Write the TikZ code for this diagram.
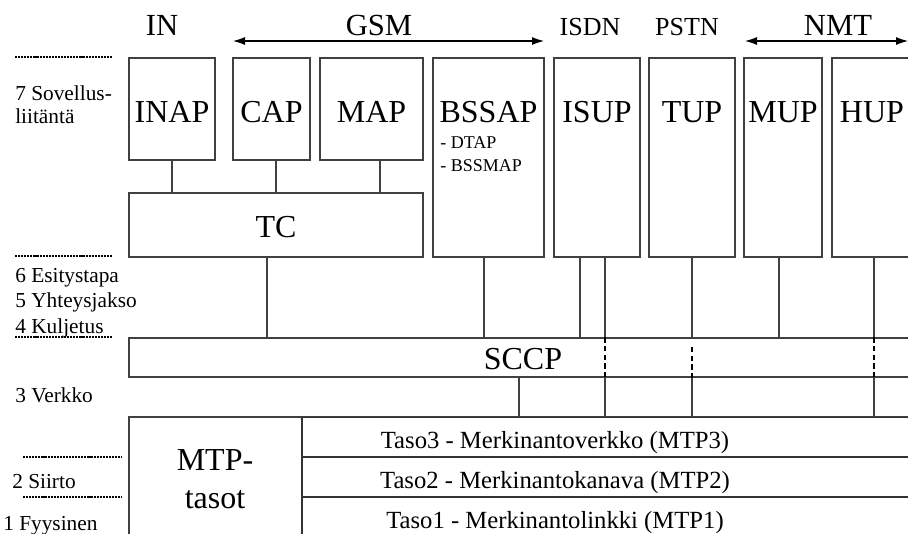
\documentclass[tikz,border=0pt]{standalone}
\usepackage{fontspec}
\setmainfont{Liberation Serif}
\usetikzlibrary{arrows.meta,fit}
\begin{document}
\begin{tikzpicture}[x=0.75pt,y=-0.75pt,
  box/.style={draw=black!75, line width=0.8pt, inner sep=0pt},
  thickbox/.style={draw=black!80, line width=1.2pt, inner sep=0pt},
  conn/.style={draw=black!75, line width=0.8pt},
  dconn/.style={draw=black, line width=1.3pt, dash pattern=on 4pt off 2.5pt},
  dotl/.style={draw=black, line width=1.1pt, dash pattern=on 1.6pt off 0.7pt},
  arr/.style={draw=black, line width=0.8pt, {Latex[length=9pt,width=6pt]}-{Latex[length=9pt,width=6pt]}},
  blbl/.style={anchor=base, inner sep=0pt, font=\fontsize{24}{26}\selectfont},
  tlbl/.style={anchor=base, inner sep=0pt, font=\fontsize{23}{25}\selectfont},
  slbl/.style={anchor=base, inner sep=0pt, font=\fontsize{19.5}{21}\selectfont},
  rlbl/.style={anchor=base, inner sep=0pt, font=\fontsize{18.5}{20}\selectfont},
  llbl/.style={anchor=base west, inner sep=0pt, font=\fontsize{16}{18}\selectfont},
  dlbl/.style={anchor=base west, inner sep=0pt, font=\fontsize{13.5}{15}\selectfont}]
\clip (0,0) rectangle (908,533);

% top labels
\node[tlbl] (lin) at (162,35) {IN};
\node[tlbl] (lgsm) at (379,35) {GSM};
\node[slbl] (lisdn) at (590,35) {ISDN};
\node[slbl] (lpstn) at (687,35) {PSTN};
\node[tlbl] (lnmt) at (838,35) {NMT};
\coordinate (gsmL) at (233,41);
\coordinate (gsmR) at (544,41);
\coordinate (nmtL) at (745,41);
\coordinate (nmtR) at (908,41);
\draw[arr] (gsmL) -- (gsmR);
\draw[arr] (nmtL) -- (nmtR);

% application boxes
\node[box, fit={(129,58)(215,160)}] (inap) {};
\node[box, fit={(233,58)(310,160)}] (cap) {};
\node[box, fit={(320,58)(423,160)}] (map) {};
\node[box, fit={(433,58)(544,257)}] (bssap) {};
\node[box, fit={(554,58)(640,257)}] (isup) {};
\node[box, fit={(649,58)(735,257)}] (tup) {};
\node[box, fit={(744,58)(822,257)}] (mup) {};
\node[box, fit={(832,58)(920,257)}] (hup) {};
\node[blbl] (tinap) at (172,122) {INAP};
\node[blbl] (tcap) at (271.5,122) {CAP};
\node[blbl] (tmap) at (371.5,122) {MAP};
\node[blbl] (tbssap) at (488.5,122) {BSSAP};
\node[dlbl] (tdtap) at (440,148) {- DTAP};
\node[dlbl] (tbssmap) at (440,171) {- BSSMAP};
\node[blbl] (tisup) at (597,122) {ISUP};
\node[blbl] (ttup) at (692,122) {TUP};
\node[blbl] (tmup) at (783,122) {MUP};
\node[blbl] (thup) at (872,122) {HUP};

% TC
\node[box, fit={(129,193)(423,257)}] (tc) {};
\node[blbl] (ttc) at (276,237) {TC};
\draw[conn] (172,0 |- inap.south) -- (172,0 |- tc.north);
\draw[conn] (276,0 |- cap.south) -- (276,0 |- tc.north);
\draw[conn] (380,0 |- map.south) -- (380,0 |- tc.north);

% SCCP
\node[box, fit={(129,338)(920,377)}] (sccp) {};
\node[blbl] (tsccp) at (523,369) {SCCP};
\draw[conn] (267,0 |- tc.south) -- (267,0 |- sccp.north);
\draw[conn] (484,0 |- bssap.south) -- (484,0 |- sccp.north);
\draw[conn] (580,0 |- isup.south) -- (580,0 |- sccp.north);
\draw[conn] (605,0 |- isup.south) -- (605,0 |- sccp.north);
\draw[conn] (692,0 |- tup.south) -- (692,0 |- sccp.north);
\draw[conn] (779,0 |- mup.south) -- (779,0 |- sccp.north);
\draw[conn] (874,0 |- hup.south) -- (874,0 |- sccp.north);
\draw[dconn] (605,0 |- sccp.north) -- (605,0 |- sccp.south);
\draw[dconn] (692,347) -- (692,383);
\draw[dconn] (874,0 |- sccp.north) -- (874,0 |- sccp.south);

% MTP
\node[box, fit={(129,417)(920,545)}] (mtp) {};
\node[thickbox, fit={(302,417)(920,457)}] (mtp3) {};
\node[thickbox, fit={(302,457)(920,497)}] (mtp2) {};
\node[thickbox, fit={(302,497)(920,545)}] (mtp1) {};
\draw[box] (mtp.north west) rectangle (mtp.south east);
\node[blbl] (tmtpa) at (215,470) {MTP-};
\node[blbl] (tmtpb) at (215,508) {tasot};
\node[rlbl] (tt3) at (555,448) {Taso3 - Merkinantoverkko (MTP3)};
\node[rlbl] (tt2) at (555,488) {Taso2 - Merkinantokanava (MTP2)};
\node[rlbl] (tt1) at (555,528) {Taso1 - Merkinantolinkki (MTP1)};
\draw[conn] (519,0 |- sccp.south) -- (519,0 |- mtp.north);
\draw[conn] (605,0 |- sccp.south) -- (605,0 |- mtp.north);
\draw[conn] (692,0 |- sccp.south) -- (692,0 |- mtp.north);
\draw[conn] (874,0 |- sccp.south) -- (874,0 |- mtp.north);

% OSI layer labels
\node[llbl] (l7a) at (15,100) {7 Sovellus-};
\node[llbl] (l7b) at (15,123) {liitäntä};
\node[llbl] (l6) at (15,282) {6 Esitystapa};
\node[llbl] (l5) at (15,307) {5 Yhteysjakso};
\node[llbl] (l4) at (15,333) {4 Kuljetus};
\node[llbl] (l3) at (15,402) {3 Verkko};
\node[llbl] (l2) at (12,488) {2 Siirto};
\node[llbl] (l1) at (3,530) {1 Fyysinen};
\draw[dotl] (15,57) -- (113,57);
\draw[dotl] (15,256) -- (113,256);
\draw[dotl] (15,337) -- (113,337);
\draw[dotl] (23,457) -- (122,457);
\draw[dotl] (23,497) -- (122,497);
\end{tikzpicture}
\end{document}
